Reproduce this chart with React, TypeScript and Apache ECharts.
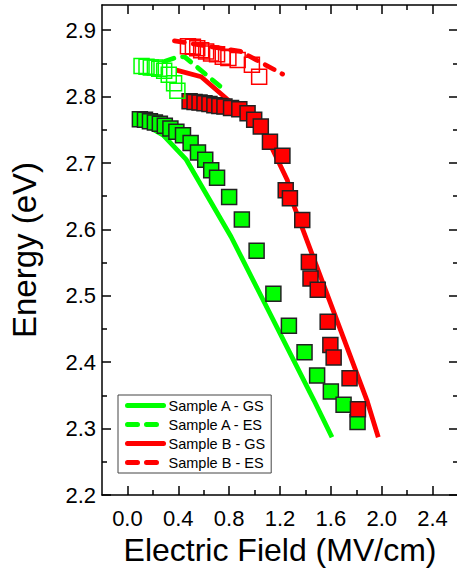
import React, { useEffect, useRef } from "react";
import * as echarts from "echarts";

// ---- Data ----
// Sample A - ground state (filled green squares)
const A_GS_X = [0.098, 0.138, 0.177, 0.216, 0.255, 0.294, 0.338, 0.385, 0.437, 0.497, 0.555, 0.612, 0.659, 0.705, 0.80, 0.90, 1.016, 1.148, 1.27, 1.393, 1.492, 1.60, 1.70, 1.81];
const A_GS_Y = [2.766, 2.765, 2.763, 2.761, 2.759, 2.756, 2.752, 2.747, 2.742, 2.730, 2.716, 2.705, 2.689, 2.678, 2.649, 2.615, 2.568, 2.503, 2.455, 2.415, 2.380, 2.356, 2.336, 2.310];
// Sample B - ground state (filled red squares)
const B_GS_X = [0.489, 0.528, 0.567, 0.606, 0.645, 0.684, 0.723, 0.763, 0.815, 0.88, 0.945, 0.997, 1.049, 1.121, 1.219, 1.245, 1.278, 1.375, 1.427, 1.44, 1.497, 1.575, 1.596, 1.622, 1.747, 1.813];
const B_GS_Y = [2.793, 2.792, 2.791, 2.790, 2.789, 2.787, 2.786, 2.785, 2.783, 2.781, 2.775, 2.765, 2.755, 2.732, 2.711, 2.659, 2.647, 2.614, 2.551, 2.526, 2.509, 2.461, 2.426, 2.407, 2.376, 2.329];
// Sample A - excited state (open green squares)
const A_ES_X = [0.111, 0.15, 0.184, 0.216, 0.25, 0.289, 0.325, 0.367, 0.393];
const A_ES_Y = [2.846, 2.845, 2.844, 2.844, 2.842, 2.839, 2.833, 2.820, 2.809];
// Sample B - excited state (open red squares)
const B_ES_X = [0.476, 0.515, 0.549, 0.580, 0.619, 0.658, 0.705, 0.750, 0.794, 0.867, 0.979, 1.036];
const B_ES_Y = [2.876, 2.875, 2.873, 2.870, 2.868, 2.865, 2.864, 2.860, 2.858, 2.855, 2.848, 2.830];

// Model curves
const A_GS_LINE_X = [0.12, 0.281, 0.463, 0.815, 1.466, 1.609];
const A_GS_LINE_Y = [2.760, 2.742, 2.705, 2.589, 2.343, 2.287];
const A_ES_LINE_X = [0.29, 0.40, 0.45, 0.77];
const A_ES_LINE_Y = [2.853, 2.860, 2.860, 2.809];
const B_GS_LINE_X = [0.385, 0.58, 0.84, 1.075, 1.258, 1.297, 1.883, 1.973];
const B_GS_LINE_Y = [2.840, 2.830, 2.787, 2.747, 2.674, 2.642, 2.343, 2.287];
const B_ES_LINE_X = [0.37, 0.89, 1.22];
const B_ES_LINE_Y = [2.884, 2.868, 2.834];

// Axes
const X_MAJOR = [0, 0.4, 0.8, 1.2, 1.6, 2.0, 2.4];
const X_MINOR = [0.2, 0.6, 1.0, 1.4, 1.8, 2.2];
const Y_MAJOR = [2.2, 2.3, 2.4, 2.5, 2.6, 2.7, 2.8, 2.9];
const Y_MINOR = [2.25, 2.35, 2.45, 2.55, 2.65, 2.75, 2.85];
const X_MIN = -0.2;
const X_MAX = 2.6;
const Y_MIN = 2.2;
const Y_MAX = 2.938;

const LEGEND_NAMES = ["Sample A - GS", "Sample A - ES", "Sample B - GS", "Sample B - ES"];

const GREEN = "#00ff00";
const RED = "#ff0000";
const FONT = "Liberation Sans, Arial, sans-serif";

const zip = (xs: number[], ys: number[]) => xs.map((x, i) => [x, ys[i]]);

export default function App() {
  const ref = useRef<HTMLDivElement>(null);

  useEffect(() => {
    if (!ref.current) return;
    const chart = echarts.init(ref.current, undefined, { renderer: "svg" });

    const axisLine = { show: true, onZero: false, lineStyle: { color: "#000", width: 1.5 } };
    const tickStyle = { color: "#000", width: 1.5 };

    const xBase = { type: "value", min: X_MIN, max: X_MAX, splitLine: { show: false }, gridIndex: 0 };
    const yBase = { type: "value", min: Y_MIN, max: Y_MAX, splitLine: { show: false }, gridIndex: 0 };

    const lineSeries = (name: string, xs: number[], ys: number[], color: string, dashed: boolean) => ({
      name,
      type: "line",
      data: zip(xs, ys),
      symbol: "none",
      showSymbol: false,
      z: 2,
      lineStyle: {
        color,
        width: 4.8,
        type: dashed ? [10, 9] : "solid",
        cap: dashed ? "round" : "butt",
      },
      itemStyle: { color },
    });

    const scatterSeries = (name: string, xs: number[], ys: number[], color: string, filled: boolean) => ({
      name,
      type: "scatter",
      data: zip(xs, ys),
      symbol: "rect",
      symbolSize: 15,
      z: 3,
      itemStyle: filled
        ? { color, borderColor: "#222", borderWidth: 1.5, opacity: 1 }
        : { color: "rgba(255,255,255,0)", borderColor: color, borderWidth: 1.5, opacity: 1 },
    });

    chart.setOption({
      animation: false,
      backgroundColor: "#fff",
      grid: { left: 99, right: 2, top: 5, bottom: 79, containLabel: false },
      legend: {
        data: LEGEND_NAMES,
        orient: "vertical",
        left: 118,
        top: 395,
        padding: [3, 6, 3, 7],
        itemWidth: 36,
        itemHeight: 14,
        itemGap: 4,
        borderColor: "#444",
        borderWidth: 1,
        backgroundColor: "#fff",
        itemStyle: { opacity: 0, color: "rgba(0,0,0,0)", borderWidth: 0 },
        lineStyle: { width: 5, cap: "round" },
        textStyle: { fontFamily: FONT, fontSize: 14.5, color: "#000", lineHeight: 14 },
      },
      xAxis: [
        {
          ...xBase,
          position: "bottom",
          axisLine,
          axisTick: { show: true, inside: true, length: 9, customValues: X_MAJOR, lineStyle: tickStyle },
          axisLabel: {
            customValues: X_MAJOR,
            formatter: (v: number) => v.toFixed(1),
            fontFamily: FONT,
            fontSize: 22,
            color: "#000",
            margin: 12,
          },
          name: "Electric Field (MV/cm)",
          nameLocation: "middle",
          nameGap: 39,
          nameTextStyle: { fontFamily: FONT, fontSize: 32, color: "#000" },
        },
        {
          ...xBase,
          position: "bottom",
          axisLine: { show: false, onZero: false },
          axisTick: { show: true, inside: true, length: 5, customValues: X_MINOR, lineStyle: tickStyle },
          axisLabel: { show: false },
        },
        {
          ...xBase,
          position: "top",
          axisLine,
          axisTick: { show: true, inside: true, length: 9, customValues: X_MAJOR, lineStyle: tickStyle },
          axisLabel: { show: false },
        },
        {
          ...xBase,
          position: "top",
          axisLine: { show: false, onZero: false },
          axisTick: { show: true, inside: true, length: 5, customValues: X_MINOR, lineStyle: tickStyle },
          axisLabel: { show: false },
        },
      ],
      yAxis: [
        {
          ...yBase,
          position: "left",
          axisLine,
          axisTick: { show: true, inside: true, length: 9, customValues: Y_MAJOR, lineStyle: tickStyle },
          axisLabel: {
            customValues: Y_MAJOR,
            formatter: (v: number) => v.toFixed(1),
            fontFamily: FONT,
            fontSize: 22,
            color: "#000",
            margin: 6,
          },
          name: "Energy (eV)",
          nameLocation: "middle",
          nameGap: 61,
          nameRotate: 90,
          nameTextStyle: { fontFamily: FONT, fontSize: 33, color: "#000" },
        },
        {
          ...yBase,
          position: "left",
          axisLine: { show: false, onZero: false },
          axisTick: { show: true, inside: true, length: 5, customValues: Y_MINOR, lineStyle: tickStyle },
          axisLabel: { show: false },
        },
        {
          ...yBase,
          position: "right",
          axisLine,
          axisTick: { show: true, inside: true, length: 9, customValues: Y_MAJOR, lineStyle: tickStyle },
          axisLabel: { show: false },
        },
        {
          ...yBase,
          position: "right",
          axisLine: { show: false, onZero: false },
          axisTick: { show: true, inside: true, length: 5, customValues: Y_MINOR, lineStyle: tickStyle },
          axisLabel: { show: false },
        },
      ],
      series: [
        lineSeries("Sample A - GS", A_GS_LINE_X, A_GS_LINE_Y, GREEN, false),
        lineSeries("Sample A - ES", A_ES_LINE_X, A_ES_LINE_Y, GREEN, true),
        lineSeries("Sample B - GS", B_GS_LINE_X, B_GS_LINE_Y, RED, false),
        lineSeries("Sample B - ES", B_ES_LINE_X, B_ES_LINE_Y, RED, true),
        scatterSeries("Sample A - GS data", A_GS_X, A_GS_Y, GREEN, true),
        scatterSeries("Sample B - GS data", B_GS_X, B_GS_Y, RED, true),
        scatterSeries("Sample A - ES data", A_ES_X, A_ES_Y, GREEN, false),
        scatterSeries("Sample B - ES data", B_ES_X, B_ES_Y, RED, false),
      ],
    });

    return () => chart.dispose();
  }, []);

  return (
    <div
      ref={ref}
      style={{ position: "fixed", left: 0, top: 0, width: 460, height: 574, background: "#fff" }}
    />
  );
}
